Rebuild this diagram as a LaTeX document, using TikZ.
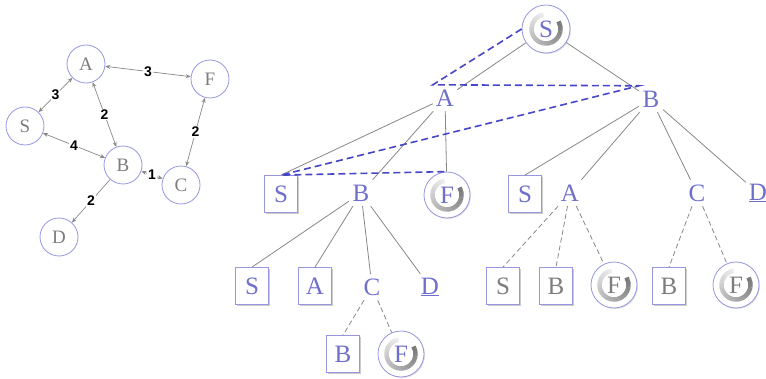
\documentclass[tikz,border=0pt]{standalone}
\usepackage{fontspec}
\setmainfont{Liberation Serif}
\newfontfamily\numfont{Liberation Sans}
\usetikzlibrary{arrows.meta,shadows}

\definecolor{ringblue}{RGB}{150,150,225}
\definecolor{textblue}{RGB}{110,110,205}
\definecolor{pathblue}{RGB}{70,70,200}
\definecolor{edgegray}{RGB}{135,135,135}
\definecolor{textgray}{RGB}{125,125,125}

\tikzset{
	gnode/.style={circle, draw=ringblue, line width=0.8pt, fill=white, minimum size=38pt, inner sep=0pt,
		text=textgray, font=\fontsize{19}{19}\selectfont},
	wlabel/.style={fill=white, inner sep=1pt, font=\numfont\bfseries\fontsize{14}{14}\selectfont},
	link/.style={draw=edgegray, line width=0.7pt, {Stealth[length=5pt,width=4pt]}-{Stealth[length=5pt,width=4pt]}},
	onelink/.style={draw=edgegray, line width=0.7pt, -{Stealth[length=5pt,width=4pt]}},
	tletter/.style={minimum width=24pt, minimum height=26pt, inner sep=0pt,
		text=textblue, font=\fontsize{25}{25}\selectfont},
	leaf/.style={tletter, draw=ringblue, line width=0.8pt, fill=white, minimum width=33pt, minimum height=37pt,
		drop shadow={shadow xshift=1.5pt, shadow yshift=-1.5pt, fill=black!40, opacity=0.5}},
	goal/.style={tletter, circle, draw=ringblue, line width=0.8pt, fill=white, minimum size=46pt,
		drop shadow={shadow xshift=1pt, shadow yshift=-1pt, fill=black!30, opacity=0.4},
		path picture={
			\foreach \k in {0,...,28} {
				\pgfmathtruncatemacro\g{8+1.6*\k}
				\draw[line width=4.5pt, black!\g]
					([shift={(100+10*\k:14.5pt)}]path picture bounding box.center)
					arc[start angle=100+10*\k, end angle=111+10*\k, radius=14.5pt];
			}
		}},
	faded/.style={text=textgray},
	tree/.style={draw=edgegray, line width=0.8pt},
	unseen/.style={tree, dash pattern=on 5pt off 3pt},
	route/.style={draw=pathblue, line width=1.6pt, dash pattern=on 7pt off 4pt}
}

\begin{document}
\begin{tikzpicture}[x=1pt, y=1pt]
	\useasboundingbox (0,0) rectangle (766,378);

	% state graph
	\node[gnode] (gA) at (86,314) {A} ; %
	\node[gnode] (gF) at (210,299) {F} ;
	\node[gnode] (gS) at (25,252) {S} ;
	\node[gnode] (gB) at (123,213) {B} ;
	\node[gnode] (gC) at (181,193) {C} ;
	\node[gnode] (gD) at (59,141) {D} ;

	\draw[link] (gA) -- node[wlabel] {3} (gF) ;
	\draw[link] (gS) -- node[wlabel] {3} (gA) ;
	\draw[link] (gA) -- node[wlabel] {2} (gB) ;
	\draw[link] (gS) -- node[wlabel] {4} (gB) ;
	\draw[link] (gF) -- node[wlabel] {2} (gC) ;
	\draw[link] (gB) -- node[wlabel] {1} (gC) ;
	\draw[onelink] (gB) -- node[wlabel] {2} (gD) ;

	% search tree
	\node[goal, minimum size=48pt] (root) at (546,349) {S} ; %
	\node[tletter] (tA) at (445,280) {A} ;
	\node[tletter] (tB) at (651,279) {B} ;

	\node[leaf] (aS) at (281,184) {S} ;
	\node[tletter] (aB) at (361,185) {B} ;
	\node[goal] (aF) at (447,183) {F} ;
	\node[leaf] (bS) at (525,184) {S} ;
	\node[tletter] (bA) at (570,185) {A} ;
	\node[tletter] (bC) at (697,185) {C} ;
	\node[tletter] (bD) at (758,185) {\underline{D}} ;

	\node[leaf] (abS) at (252,92) {S} ;
	\node[leaf] (abA) at (315,92) {A} ;
	\node[tletter] (abC) at (372,91) {C} ;
	\node[tletter] (abD) at (430,91) {\underline{D}} ;
	\node[leaf, faded] (baS) at (503,92) {S} ;
	\node[leaf, faded] (baB) at (556,92) {B} ;
	\node[goal, faded] (baF) at (614,93) {F} ;
	\node[leaf, faded] (bcB) at (669,92) {B} ;
	\node[goal, faded] (bcF) at (736,93) {F} ;

	\node[leaf] (abcB) at (343,24) {B} ;
	\node[goal] (abcF) at (401,24) {F} ;

	\draw[tree] (root) -- (tA) ;
	\draw[tree] (root) -- (tB) ;
	\draw[tree] (tA) -- (aS.north) ;
	\draw[tree] (tA) -- (aB) ;
	\draw[tree] (tA) -- (aF) ;
	\draw[tree] (tB) -- (bS.north) ;
	\draw[tree] (tB) -- (bA) ;
	\draw[tree] (tB) -- (bC) ;
	\draw[tree] (tB) -- (bD) ;
	\draw[tree] (aB) -- (abS.north) ;
	\draw[tree] (aB) -- (abA.north) ;
	\draw[tree] (aB) -- (abC) ;
	\draw[tree] (aB) -- (abD) ;

	\draw[unseen] (bA) -- (baS.north) ;
	\draw[unseen] (bA) -- (baB.north) ;
	\draw[unseen] (bA) -- (baF) ;
	\draw[unseen] (bC) -- (bcB.north) ;
	\draw[unseen] (bC) -- (bcF) ;
	\draw[unseen] (abC) -- (abcB.north) ;
	\draw[unseen] (abC) -- (abcF) ;

	% search order
	\draw[route] (root.west) -- (tA.north west) -- (tB.north west)
		-- (aS.north) -- (aF.north) ;

\end{tikzpicture}
\end{document}
